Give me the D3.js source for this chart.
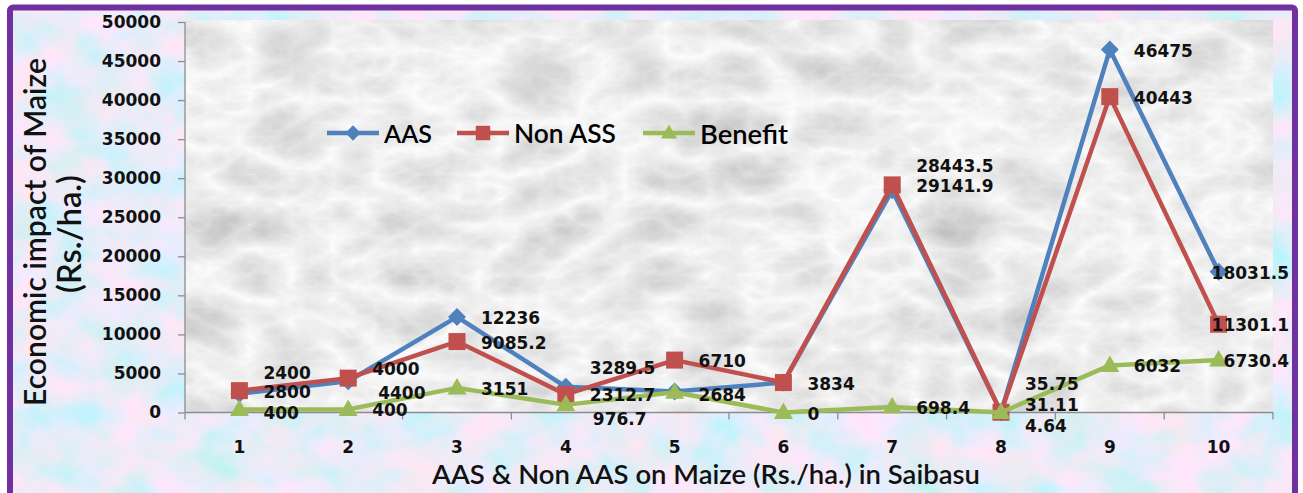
<!DOCTYPE html>
<html>
<head>
<meta charset="utf-8">
<script src="https://cdn.jsdelivr.net/npm/d3@7"></script>
<style>
  html, body { margin: 0; padding: 0; background: #ffffff; }
  svg { display: block; }
</style>
</head>
<body>
<svg id="chart" width="1303" height="493"></svg>
<script>
// ---------------- data ----------------
const categories = ["1", "2", "3", "4", "5", "6", "7", "8", "9", "10"];
const aasValues     = [2400, 4000, 12236, 3289.5, 2684, 3834, 28443.5, 35.75, 46475, 18031.5];
const nonAasValues  = [2800, 4400, 9085.2, 2312.7, 6710, 3834, 29141.9, 31.11, 40443, 11301.1];
const benefitValues = [400, 400, 3151, 976.7, 2600, 0, 698.4, 4.64, 6032, 6730.4];
const yTicks = [0, 5000, 10000, 15000, 20000, 25000, 30000, 35000, 40000, 45000, 50000];
const seriesNames = ["AAS", "Non ASS", "Benefit"];
const yTitleLines = ["Economic impact of Maize", "(Rs./ha.)"];
const xTitle = "AAS & Non AAS on Maize (Rs./ha.) in Saibasu";

// label nudges (layout only; null = label not shown)
const aasLabelDy = [-22, -13, 0, -20, 2, 0, -25, -29, 0, 0];
const nonLabelDy = [0.5, 13.5, 0, 0, 0, null, 0, -8, 0, 0];
const benLabelDy = [2.5, 0, 0, 13, null, 0, 0, 12.5, 0, 0];
const aasLabelDx = [24, 24, 24, 24, 24, 24, 24, 24, 24, -7];
const nonLabelDx = [24, 30, 24, 24, 24, 24, 24, 24, 24, -7];
const benLabelDx = [24, 24, 24, 27, 24, 24, 24, 24, 24, 5];

// ---------------- setup ----------------
const svg = d3.select("#chart");
const plot = { left: 185, right: 1273, top: 22, bottom: 412.5 };

const defs = svg.append("defs");

// pastel mottled background
const f1 = defs.append("filter").attr("id", "pastel")
  .attr("x", 0).attr("y", 0).attr("width", 1303).attr("height", 493)
  .attr("filterUnits", "userSpaceOnUse");
f1.append("feTurbulence").attr("type", "fractalNoise")
  .attr("baseFrequency", "0.02 0.025").attr("numOctaves", 5).attr("seed", 7).attr("result", "n");
f1.append("feColorMatrix").attr("in", "n").attr("type", "matrix").attr("result", "c")
  .attr("values",
    "0.9 0 0 0 0.35 " +
    "-0.2 0 0 0 0.94 " +
    "0 0.2 0 0 0.84 " +
    "0 0 0 0 1");
f1.append("feComposite").attr("in", "c").attr("in2", "SourceGraphic").attr("operator", "in");

// marble plot area
const f2 = defs.append("filter").attr("id", "marble")
  .attr("x", 0).attr("y", 0).attr("width", 1303).attr("height", 493)
  .attr("filterUnits", "userSpaceOnUse");
f2.append("feTurbulence").attr("type", "turbulence")
  .attr("baseFrequency", "0.012 0.02").attr("numOctaves", 5).attr("seed", 11).attr("result", "t");
f2.append("feColorMatrix").attr("in", "t").attr("type", "matrix").attr("result", "c")
  .attr("values",
    "-0.48 0 0 0 0.99 " +
    "-0.48 0 0 0 0.99 " +
    "-0.48 0 0 0 0.99 " +
    "0 0 0 0 1");
f2.append("feComposite").attr("in", "c").attr("in2", "SourceGraphic").attr("operator", "in");

// outer background with purple frame
svg.append("rect").attr("x", 10).attr("y", 7.5).attr("width", 1285).attr("height", 500)
  .attr("fill", "#c9d8ee").attr("filter", "url(#pastel)");
svg.append("rect").attr("x", 10).attr("y", 7.5).attr("width", 1285).attr("height", 500)
  .attr("rx", 3)
  .attr("fill", "none").attr("stroke", "#7030a0").attr("stroke-width", 6);

// plot area
svg.append("rect")
  .attr("x", plot.left).attr("y", plot.top - 2)
  .attr("width", plot.right - plot.left).attr("height", plot.bottom - plot.top + 2)
  .attr("fill", "#e8e8e8").attr("filter", "url(#marble)");

// ---------------- scales ----------------
const x = d3.scaleBand().domain(categories).range([plot.left, plot.right]).paddingInner(0).paddingOuter(0);
const cx = c => x(c) + x.bandwidth() / 2;
const y = d3.scaleLinear().domain([0, 50000]).range([plot.bottom, plot.top]);

// ---------------- axes ----------------
const axisColor = "#8c8c8c";
const yAxis = svg.append("g").attr("transform", `translate(${plot.left},0)`)
  .call(d3.axisLeft(y).tickValues(yTicks).tickSize(7).tickPadding(17).tickFormat(d3.format("d")));
yAxis.select(".domain").attr("stroke", axisColor).attr("stroke-width", 1.3).attr("d", `M0,${plot.bottom}V${plot.top}`);
yAxis.selectAll(".tick line").attr("stroke", axisColor).attr("stroke-width", 1.3);
yAxis.selectAll(".tick text")
  .attr("font-family", "'DejaVu Sans', Verdana, sans-serif")
  .attr("font-weight", "bold").attr("font-size", 17).attr("fill", "#111");

// x axis: line + ticks at band boundaries
const xg = svg.append("g");
xg.append("line").attr("x1", plot.left).attr("x2", plot.right)
  .attr("y1", plot.bottom).attr("y2", plot.bottom)
  .attr("stroke", axisColor).attr("stroke-width", 1.3);
const boundaries = categories.map(c => x(c)).concat([plot.right]);
xg.selectAll("line.tk").data(boundaries).join("line").attr("class", "tk")
  .attr("x1", d => d).attr("x2", d => d)
  .attr("y1", plot.bottom).attr("y2", plot.bottom + 7)
  .attr("stroke", axisColor).attr("stroke-width", 1.3);
xg.selectAll("text").data(categories).join("text")
  .attr("x", d => cx(d)).attr("y", 447)
  .attr("text-anchor", "middle").attr("dominant-baseline", "central")
  .attr("font-family", "'DejaVu Sans', Verdana, sans-serif")
  .attr("font-weight", "bold").attr("font-size", 17).attr("fill", "#111")
  .text(d => d);

// ---------------- titles ----------------
function fitText(sel, target) {
  const len = sel.node().getComputedTextLength();
  const fs = parseFloat(sel.attr("font-size"));
  sel.attr("font-size", (fs * target / len).toFixed(2));
}
const titleFont = "Lato, 'Open Sans', sans-serif";
const yt1 = svg.append("text")
  .attr("transform", "translate(34,232) rotate(-90)")
  .attr("text-anchor", "middle").attr("dominant-baseline", "central")
  .attr("font-family", titleFont).attr("font-size", 28).attr("font-weight", 600).attr("fill", "#111")
  .text(yTitleLines[0]);
fitText(yt1, 348);
const yt2 = svg.append("text")
  .attr("transform", "translate(68,234) rotate(-90)")
  .attr("text-anchor", "middle").attr("dominant-baseline", "central")
  .attr("font-family", titleFont).attr("font-size", 28).attr("font-weight", 600).attr("fill", "#111")
  .text(yTitleLines[1]);
fitText(yt2, 118);
const xt = svg.append("text")
  .attr("x", 706).attr("y", 473)
  .attr("text-anchor", "middle").attr("dominant-baseline", "central")
  .attr("font-family", titleFont).attr("font-size", 26).attr("font-weight", 600).attr("fill", "#111")
  .text(xTitle);
fitText(xt, 548);

// ---------------- series ----------------
const colors = ["#4f81bd", "#c0504d", "#9bbb59"];
const markerPaths = [
  "M0,-9L9,0L0,9L-9,0Z",                 // diamond
  "M-8.5,-8.5H8.5V8.5H-8.5Z",            // square
  "M0,-10L9.5,6.5H-9.5Z"                 // triangle
];
const seriesValues = [aasValues, nonAasValues, benefitValues];
const labelDys = [aasLabelDy, nonLabelDy, benLabelDy];
const labelDxs = [aasLabelDx, nonLabelDx, benLabelDx];

const line = d3.line().x((d, i) => cx(categories[i])).y(d => y(d));

seriesValues.forEach((vals, s) => {
  const g = svg.append("g");
  g.append("path").datum(vals).attr("d", line)
    .attr("fill", "none").attr("stroke", colors[s]).attr("stroke-width", 4.5)
    .attr("stroke-linejoin", "round");
  g.selectAll("path.m").data(vals).join("path").attr("class", "m")
    .attr("d", markerPaths[s])
    .attr("transform", (d, i) => `translate(${cx(categories[i])},${y(d)})`)
    .attr("fill", colors[s]);
});

// data labels on top
seriesValues.forEach((vals, s) => {
  const items = vals.map((v, i) => ({ v, i, dy: labelDys[s][i], dx: labelDxs[s][i] }))
    .filter(o => o.dy !== null);
  svg.append("g").selectAll("text").data(items).join("text")
    .attr("x", o => cx(categories[o.i]) + o.dx)
    .attr("y", o => y(o.v) + o.dy + 1)
    .attr("dominant-baseline", "central")
    .attr("font-family", "'DejaVu Sans', Verdana, sans-serif")
    .attr("font-weight", "bold").attr("font-size", 17).attr("fill", "#111")
    .text(o => String(o.v));
});

// ---------------- legend ----------------
const legendItems = [
  { x0: 327, text: seriesNames[0], w: 48 },
  { x0: 457, text: seriesNames[1], w: 102 },
  { x0: 643, text: seriesNames[2], w: 88 }
];
const ly = 133;
legendItems.forEach((it, s) => {
  const g = svg.append("g");
  g.append("line").attr("x1", it.x0).attr("x2", it.x0 + 52).attr("y1", ly).attr("y2", ly)
    .attr("stroke", colors[s]).attr("stroke-width", 4.5);
  g.append("path").attr("d", markerPaths[s])
    .attr("transform", `translate(${it.x0 + 26},${ly}) scale(0.85)`).attr("fill", colors[s]);
  const t = g.append("text").attr("x", it.x0 + 57).attr("y", ly)
    .attr("dominant-baseline", "central")
    .attr("font-family", titleFont).attr("font-size", 24).attr("font-weight", 600).attr("fill", "#000")
    .text(it.text);
  fitText(t, it.w);
});
</script>
</body>
</html>
